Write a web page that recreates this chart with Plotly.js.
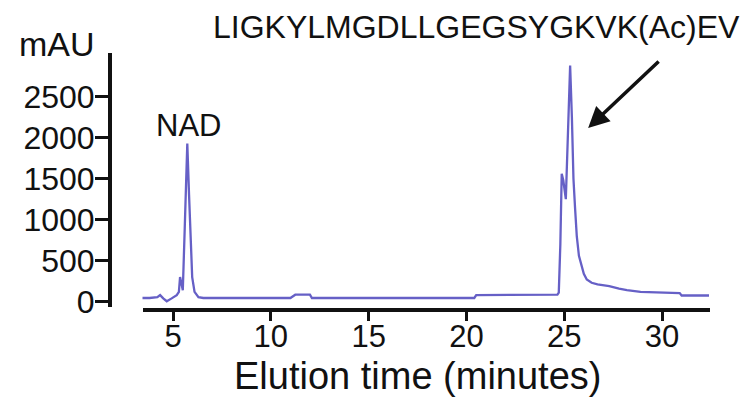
<!DOCTYPE html>
<html>
<head>
<meta charset="utf-8">
<script src="https://cdn.plot.ly/plotly-3.0.1.min.js"></script>
<style>html,body{margin:0;padding:0;background:#fff;}#chart{width:751px;height:399px;}</style>
</head>
<body>
<div id="chart"></div>
<script>
// Elution time (minutes)
const elutionTime = [3.40, 3.8, 4.2, 4.34, 4.5, 4.68, 4.93, 5.19, 5.30, 5.36, 5.45, 5.50, 5.60, 5.73, 5.82, 5.90, 5.98, 6.10, 6.30, 6.55,
  8.0, 11.0, 11.25, 12.0, 12.1, 16.0, 20.4, 20.5, 24.0, 24.65, 24.72, 24.80, 24.87, 24.95, 25.08, 25.18, 25.30, 25.39, 25.47,
  25.55, 25.64, 25.75, 25.89, 26.0, 26.15, 26.4, 26.7, 27.3, 27.8, 28.2, 28.9, 30.9, 31.0, 32.4];
// Absorbance (mAU)
const absorbance = [45, 45, 55, 80, 40, 5, 40, 80, 120, 300, 200, 140, 900, 1930, 1300, 700, 300, 120, 55, 45,
  45, 45, 85, 85, 45, 45, 45, 80, 80, 85, 110, 700, 1560, 1480, 1250, 2000, 2880, 2250, 1500,
  1150, 800, 560, 430, 340, 270, 230, 210, 190, 160, 140, 120, 105, 75, 75];
const xTicks = [5, 10, 15, 20, 25, 30];
const yTicks = [0, 500, 1000, 1500, 2000, 2500];
const peptideLabel = "LIGKYLMGDLLGEGSYGKVK(Ac)EV";
const nadLabel = "NAD";
const yUnit = "mAU";
const xTitle = "Elution time (minutes)";
const arrowTarget = {x: 26.22, y: 2118};

const L = 110, R = 41, T = 53, B = 89, W = 751, H = 399;
const pw = W - L - R, ph = H - T - B;
const px = v => (v - L) / pw;
const py = v => (H - B - v) / ph;
const FONT = "Liberation Sans, Arial, Helvetica, sans-serif";

const trace = {
  x: elutionTime, y: absorbance, type: 'scatter', mode: 'lines',
  line: {color: '#6660c6', width: 2.3}, hoverinfo: 'skip', showlegend: false
};

const layout = {
  width: W, height: H,
  margin: {l: L, r: R, t: T, b: B, pad: 0},
  paper_bgcolor: '#ffffff', plot_bgcolor: '#ffffff',
  showlegend: false,
  xaxis: {
    domain: [px(142.5), 1], range: [3.44, 32.45], anchor: 'free', position: 0,
    tickmode: 'array', tickvals: xTicks, ticktext: xTicks.map(String),
    ticks: 'outside', ticklen: 9, tickwidth: 3, tickcolor: '#111',
    ticklabelstandoff: -11,
    showline: true, linewidth: 4, linecolor: '#111',
    showgrid: false, zeroline: false,
    tickfont: {family: FONT, size: 31, color: '#111'}
  },
  yaxis: {
    domain: [py(307), 1], range: [-65, 3033], anchor: 'free', position: 0,
    tickmode: 'array', tickvals: yTicks, ticktext: yTicks.map(String),
    ticks: 'outside', ticklen: 13, tickwidth: 3, tickcolor: '#111',
    ticklabelstandoff: -6,
    showline: true, linewidth: 4, linecolor: '#111',
    showgrid: false, zeroline: false,
    tickfont: {family: FONT, size: 32, color: '#111'}
  },
  annotations: [
    {xref: 'paper', yref: 'paper', x: px(476), y: py(27), text: peptideLabel, showarrow: false,
     xanchor: 'center', yanchor: 'middle', font: {family: FONT, size: 32, color: '#111'}},
    {xref: 'paper', yref: 'paper', x: px(188), y: py(125), text: nadLabel, showarrow: false,
     xanchor: 'center', yanchor: 'middle', font: {family: FONT, size: 31, color: '#111'}},
    {xref: 'paper', yref: 'paper', x: px(57), y: py(44), text: yUnit, showarrow: false,
     xanchor: 'center', yanchor: 'middle', font: {family: FONT, size: 34, color: '#111'}},
    {xref: 'paper', yref: 'paper', x: px(417), y: py(376), text: xTitle, showarrow: false,
     xanchor: 'center', yanchor: 'middle', font: {family: FONT, size: 38, color: '#111'}},
    {x: arrowTarget.x, y: arrowTarget.y, xref: 'x', yref: 'y', text: '', showarrow: true,
     ax: 72, ay: -68, arrowhead: 2, arrowsize: 1.2, arrowwidth: 3.5, arrowcolor: '#111', standoff: 0}
  ]
};

Plotly.newPlot('chart', [trace], layout, {staticPlot: true, displayModeBar: false});
</script>
</body>
</html>
